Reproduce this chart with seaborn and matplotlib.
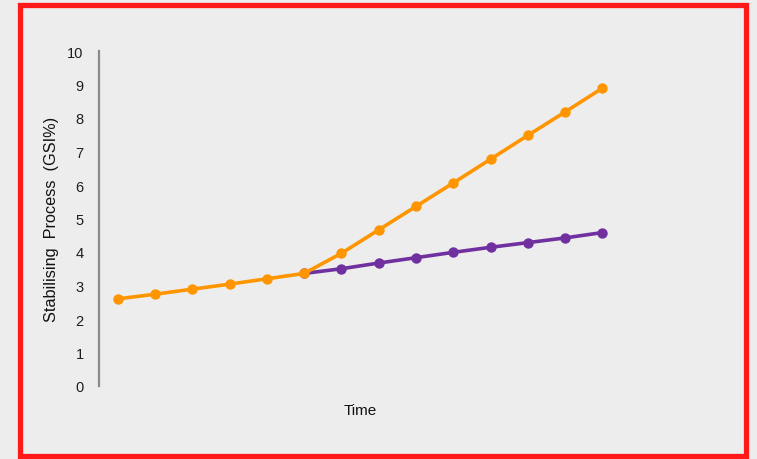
import matplotlib
matplotlib.use("Agg")
import matplotlib.pyplot as plt
from matplotlib.patches import Rectangle
import pandas as pd
import seaborn as sns

# Time steps and the two GSI% trajectories
time_steps = list(range(14))
baseline = [2.6, 2.74, 2.89, 3.04, 3.2, 3.36, 3.5, 3.67, 3.83, 3.99, 4.14, 4.28, 4.42, 4.58]
accelerated = [2.6, 2.74, 2.89, 3.04, 3.2, 3.36, 3.96, 4.66, 5.36, 6.06, 6.77, 7.48, 8.18, 8.89]
y_ticks = list(range(0, 11))

# the two paths share the first six points; the baseline branch is drawn from the split on
split = 5

series_names = ["Baseline", "Accelerated"]
palette = {"Baseline": "#7030a0", "Accelerated": "#ff9500"}

df = pd.concat([
    pd.DataFrame({"Time": time_steps[split:], "GSI": baseline[split:], "Series": series_names[0]}),
    pd.DataFrame({"Time": time_steps, "GSI": accelerated, "Series": series_names[1]}),
])

sns.set_theme(style="white")
plt.rcParams["font.family"] = ["Liberation Sans", "DejaVu Sans"]

bg = "#ededed"
fig = plt.figure(figsize=(7.57, 4.6), dpi=100, facecolor=bg)
ax = fig.add_axes([99 / 757, 73 / 460, 522 / 757, 335 / 460])
ax.set_facecolor(bg)

sns.lineplot(data=df, x="Time", y="GSI", hue="Series", hue_order=series_names,
             palette=palette, marker="o", markersize=7.5, markeredgewidth=0,
             linewidth=2.6, legend=False, ax=ax)

ax.set_xlim(-0.5, 13.5)
ax.set_ylim(0, 10)
ax.set_yticks(y_ticks)
ax.set_xticks([])
ax.tick_params(axis="y", length=0, pad=11, labelsize=10.5, labelcolor="#1e1e1e")

for side in ["top", "right", "bottom"]:
    ax.spines[side].set_visible(False)
ax.spines["left"].set_color("#8a8a8a")
ax.spines["left"].set_linewidth(1.6)

ax.set_xlabel("Time", fontsize=11, color="#111111", labelpad=12)
ax.set_ylabel("Stabilising  Process  (GSI%)", fontsize=11.7, color="#111111", labelpad=6)

# Red frame around the whole chart
fig.patches.append(Rectangle((19.5 / 757, 3.5 / 460), 726 / 757, 451 / 460,
                             transform=fig.transFigure, fill=False,
                             edgecolor="#ff1a1a", linewidth=3.8))

fig.savefig("out.png", dpi=100, facecolor=bg)
